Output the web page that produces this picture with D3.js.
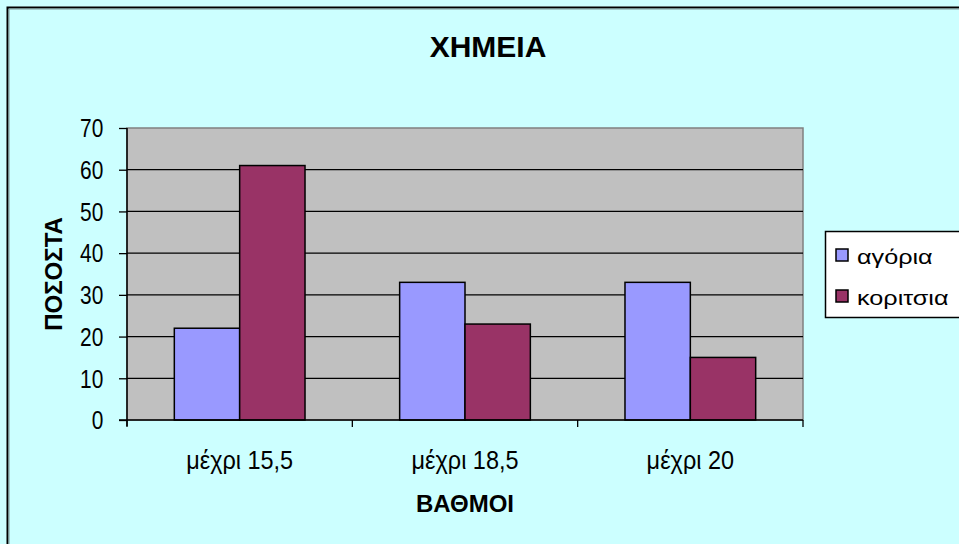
<!DOCTYPE html>
<html>
<head>
<meta charset="utf-8">
<script src="https://cdn.jsdelivr.net/npm/d3@7"></script>
<style>
html,body{margin:0;padding:0;background:#CCFFFF;}
svg{display:block;font-family:"Liberation Sans",Arial,sans-serif;}
</style>
</head>
<body>
<svg id="chart" width="959" height="544"></svg>
<script>
const categories = ["μέχρι 15,5", "μέχρι 18,5", "μέχρι 20"];
const seriesNames = ["αγόρια", "κοριτσια"];
const agoria = [22, 33, 33];
const koritsia = [61, 23, 15];
const yTicks = [0, 10, 20, 30, 40, 50, 60, 70];
const colors = ["#9999FF", "#993366"];
const title = "ΧΗΜΕΙΑ";
const yTitle = "ΠΟΣΟΣΤΑ";
const xTitle = "ΒΑΘΜΟΙ";

const svg = d3.select("#chart");
// background & frame
svg.append("rect").attr("x",0).attr("y",0).attr("width",959).attr("height",544).attr("fill","#CCFFFF");
svg.append("path").attr("d","M7.5,544 V7.5 H959").attr("fill","none").attr("stroke","#000").attr("stroke-width",2);
svg.append("path").attr("d","M9,544 V9 H959").attr("fill","none").attr("stroke","#7a9a9a").attr("stroke-width",1);

const L = 127, R = 803, T = 128, B = 420;
const x0 = d3.scaleBand().domain(categories).range([L, R]).paddingInner(0.42).paddingOuter(0.21);
const x1 = d3.scaleBand().domain(seriesNames).range([0, x0.bandwidth()]);
const y = d3.scaleLinear().domain([0, 70]).range([B, T]);

// plot area
svg.append("rect").attr("x",L).attr("y",T).attr("width",R-L).attr("height",B-T)
  .attr("fill","#C0C0C0").attr("stroke","#808080").attr("stroke-width",1.5);

// gridlines
svg.append("g").selectAll("line").data(yTicks.filter(d=>d>0 && d<70)).join("line")
  .attr("x1",L).attr("x2",R).attr("y1",d=>y(d)).attr("y2",d=>y(d))
  .attr("stroke","#000").attr("stroke-width",1.3);

// bars
const data = categories.map((c,i)=>({cat:c, vals:[agoria[i], koritsia[i]]}));
const g = svg.append("g").selectAll("g").data(data).join("g")
  .attr("transform",d=>`translate(${x0(d.cat)},0)`);
g.selectAll("rect").data(d=>d.vals.map((v,j)=>({s:seriesNames[j], v, j}))).join("rect")
  .attr("x",d=>x1(d.s)).attr("width",x1.bandwidth())
  .attr("y",d=>y(d.v)).attr("height",d=>B-y(d.v))
  .attr("fill",d=>colors[d.j]).attr("stroke","#000").attr("stroke-width",1.5);

// y axis
const yAxis = svg.append("g").attr("transform",`translate(${L},0)`)
  .call(d3.axisLeft(y).tickValues(yTicks).tickSize(8).tickPadding(16).tickSizeOuter(0));
yAxis.select(".domain").attr("stroke","#000").attr("stroke-width",1.5).attr("d",`M0,${T}V${B+6}`);
yAxis.selectAll(".tick line").attr("stroke","#000").attr("stroke-width",1.3);
yAxis.selectAll(".tick text").attr("font-size",22).attr("fill","#000")
  .attr("font-family","'Liberation Sans',Arial,sans-serif").attr("transform","scale(0.95,1.18)")
  .attr("x",-25).attr("dy","0.34em");

// x axis
const xTickScale = d3.scaleLinear().domain([0,3]).range([L,R]);
const xAxis = svg.append("g").attr("transform",`translate(0,${B})`);
xAxis.append("line").attr("x1",L-8).attr("x2",R).attr("y1",0).attr("y2",0).attr("stroke","#000").attr("stroke-width",1.5);
xAxis.selectAll("line.t").data([0,1,2,3]).join("line").attr("class","t")
  .attr("x1",d=>xTickScale(d)).attr("x2",d=>xTickScale(d)).attr("y1",0).attr("y2",7)
  .attr("stroke","#000").attr("stroke-width",1.3);
xAxis.selectAll("text").data(categories).join("text")
  .attr("transform",d=>`translate(${x0(d)+x0.bandwidth()/2},49) scale(1.02,1.15)`)
  .attr("text-anchor","middle").attr("font-size",23).attr("fill","#000").text(d=>d);

// titles
svg.append("text").attr("x",488).attr("y",57).attr("text-anchor","middle")
  .attr("font-size",30).attr("font-weight","bold").text(title);
svg.append("text").attr("transform",`translate(62,${(T+B)/2}) rotate(-90)`).attr("text-anchor","middle")
  .attr("font-size",24).attr("font-weight","bold").text(yTitle);
svg.append("text").attr("x",(L+R)/2).attr("y",512).attr("text-anchor","middle")
  .attr("font-size",24).attr("font-weight","bold").text(xTitle);

// legend
const lg = svg.append("g");
lg.append("rect").attr("x",825.5).attr("y",231.5).attr("width",140).attr("height",86)
  .attr("fill","#fff").attr("stroke","#000").attr("stroke-width",1.5);
const items = lg.selectAll("g").data(seriesNames).join("g")
  .attr("transform",(d,i)=>`translate(836,${249 + i*41})`);
items.append("rect").attr("width",12).attr("height",12).attr("fill",(d,i)=>colors[i]).attr("stroke","#000").attr("stroke-width",1.5);
items.append("text").attr("transform","translate(21,15) scale(1.2,1)").attr("font-size",21).text(d=>d);
</script>
</body>
</html>
